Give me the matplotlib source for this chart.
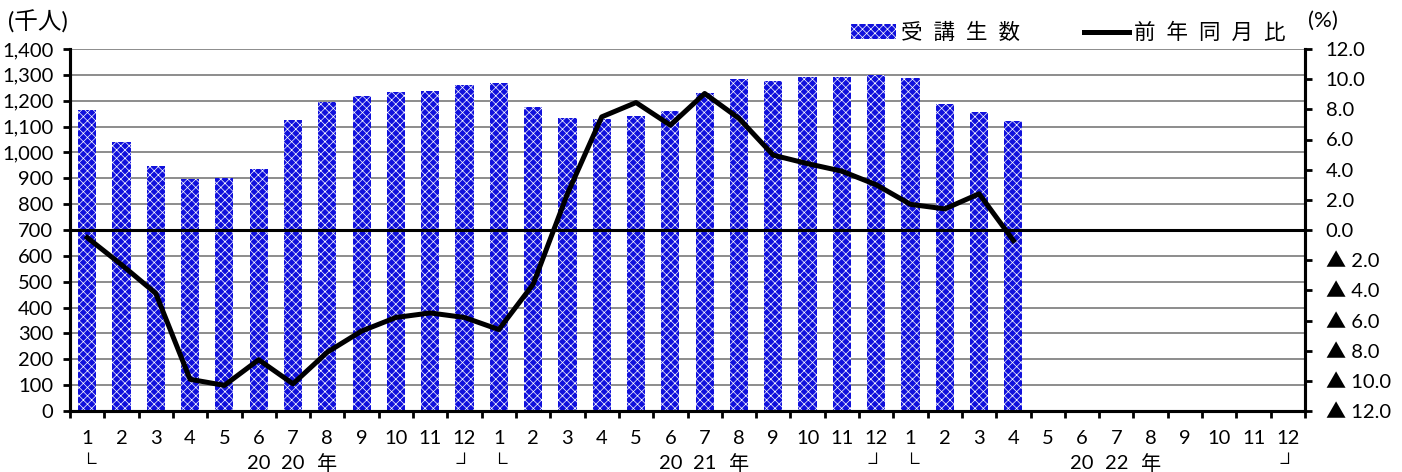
import matplotlib
matplotlib.use("Agg")
import matplotlib.pyplot as plt
import matplotlib.transforms as mtransforms

plt.rcParams['font.family'] = ['Lato', 'Noto Sans CJK JP', 'DejaVu Sans']
plt.rcParams['hatch.linewidth'] = 0.5

# data
years = ['20', '21', '22']
months = list(range(1, 13)) * 3
students = [1164, 1042, 946, 898, 902, 934, 1126, 1196, 1218, 1232, 1238, 1262,
            1267, 1174, 1133, 1129, 1142, 1162, 1229, 1284, 1278, 1290, 1290, 1299,
            1287, 1187, 1156, 1120]
yoy = [-0.5, -2.3, -4.2, -9.9, -10.3, -8.6, -10.2, -8.1, -6.7, -5.8, -5.5, -5.8,
       -6.6, -3.6, 2.4, 7.5, 8.45, 6.95, 9.05, 7.4, 4.96, 4.4, 3.9, 3.0,
       1.7, 1.4, 2.4, -0.7]

# second level category label row
year_row = []
for y in years:
    year_row += ['└', '', '', '', '', '20', y, '年', '', '', '', '┘']

x_all = list(range(1, len(months) + 1))
x_bar = x_all[:len(students)]
x_line = x_all[:len(yoy)]

fs = 14.5

fig = plt.figure(figsize=(14.02, 4.72), dpi=100)
ax = fig.add_axes([70 / 1402, 61 / 472, 1235 / 1402, 362 / 472])
ax2 = ax.twinx()

bars = ax.bar(x_bar, students, width=0.53, color='#1010dc', edgecolor='white',
              linewidth=0, hatch='xxxx', zorder=3, label='受  講  生  数')
ax.set_xlim(0.5, len(months) + 0.5)
ax.set_ylim(0, 1400)
ax.set_yticks(range(0, 1401, 100))
ax.set_yticklabels(['{:,}'.format(v) for v in range(0, 1401, 100)])
ax.yaxis.grid(True, color='#8c8c8c', linewidth=1.4, zorder=0)
ax.set_axisbelow(True)

ax.set_xticks(x_all)
ax.set_xticklabels([str(m) for m in months])
ax.set_xticks([i + 0.5 for i in range(0, len(months) + 1)], minor=True)
ax.tick_params(axis='x', which='major', length=0, pad=14, labelsize=fs)
ax.tick_params(axis='x', which='minor', length=5, width=2, direction='out')
ax.tick_params(axis='y', length=5, width=2, direction='out', pad=7, labelsize=fs)

trans = mtransforms.blended_transform_factory(ax.transData, ax.transAxes)
for xi, s in zip(x_all, year_row):
    if s:
        ax.text(xi, -0.145, s, transform=trans, ha='center', va='center', fontsize=fs)

line, = ax2.plot(x_line, yoy, color='black', linewidth=3.6, zorder=5,
                 label='前  年  同  月  比')
ax2.axhline(0, color='black', linewidth=2.2, zorder=4)
ax2.set_ylim(-12, 12)
ax2.set_yticks(range(-12, 13, 2))
ax2.set_yticklabels(['▲ {:.1f}'.format(-v) if v < 0 else '{:.1f}'.format(v)
                     for v in range(-12, 13, 2)])
ax2.tick_params(axis='y', length=5, width=2, direction='out', pad=10, labelsize=fs)

for a in (ax, ax2):
    a.spines['top'].set_visible(False)
    for sp in ('left', 'right', 'bottom'):
        a.spines[sp].set_linewidth(2.2)

fig.text(8 / 1402, 1 - 22 / 472, '(千人)', ha='left', va='center', fontsize=17)
fig.text(1308 / 1402, 1 - 21 / 472, '(%)', ha='left', va='center', fontsize=16)

fig.legend(handles=[bars, line], loc='center left',
           bbox_to_anchor=(851 / 1402, 1 - 33 / 472), ncol=2, frameon=False,
           fontsize=15.5, handlelength=2.1, handleheight=0.65, handletextpad=0.2,
           columnspacing=3.0, borderpad=0, borderaxespad=0)

fig.savefig('out.png', dpi=100)
